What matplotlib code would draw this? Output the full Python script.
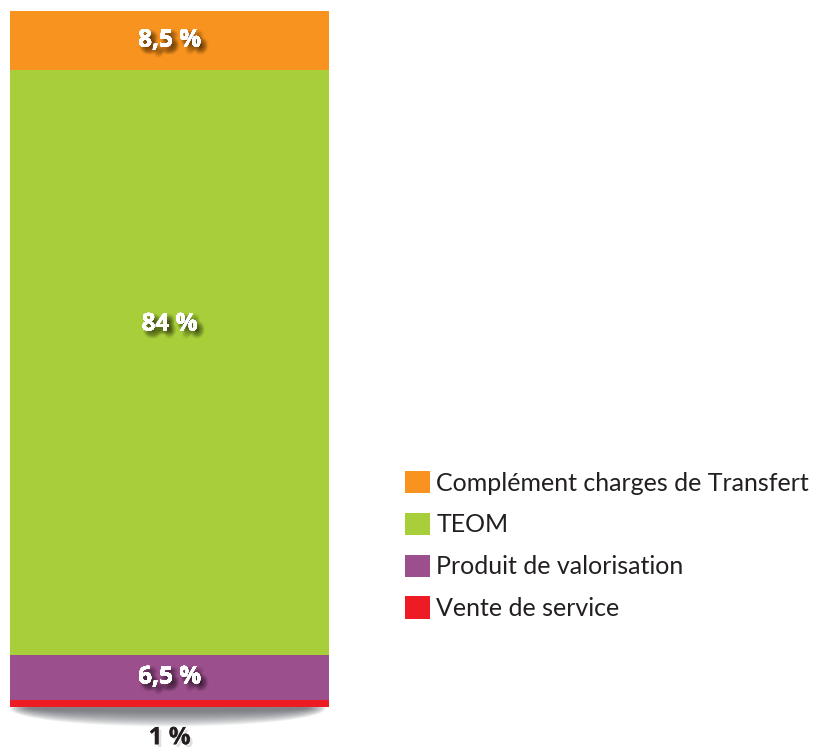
import matplotlib.pyplot as plt
import matplotlib.patheffects as pe
from matplotlib.patches import Patch, Ellipse

# data
categories = ['Vente de service', 'Produit de valorisation', 'TEOM',
              'Complément charges de Transfert']
values = [1, 6.5, 84, 8.5]
labels = ['1 %', '6,5 %', '84 %', '8,5 %']
colors = ['#ED1C24', '#9B4F8C', '#A8CF3A', '#F7931E']

W, H = 817, 751
fig = plt.figure(figsize=(W / 100, H / 100), dpi=100)

# axes covering the bar area (pixel box 10..329 x 11..707)
ax = fig.add_axes([10 / W, (H - 707) / H, 319 / W, 696 / H])
ax.set_xlim(-0.5, 0.5)
ax.set_ylim(0, sum(values))
ax.axis('off')

# soft shadow under the bar
n = 16
for i in range(n):
    w = 0.99 - i * 0.008
    h = 0.052 - i * 0.0028
    ax.add_patch(Ellipse((0.495, -0.002), w, h, transform=ax.transAxes,
                         facecolor='#4a4d55', edgecolor='none', alpha=0.065,
                         clip_on=False, zorder=0))

# blurry drop shadow for the labels
offsets = [(dx, -dy) for dx in range(0, 7) for dy in range(0, 7)
           if 1 <= (dx - 3) ** 2 + (dy - 3) ** 2 + 1 <= 10]
shadow = [pe.withSimplePatchShadow(offset=o, shadow_rgbFace='black', alpha=0.035)
          for o in offsets]
font = 'Open Sans'
bottom = 0
for v, lab, c in zip(values, labels, colors):
    ax.bar(0, v, width=1, bottom=bottom, color=c, edgecolor='none', zorder=2)
    if v > 50:
        # the big segment's label sits a bit above its middle
        ax.text(0, bottom + v * 0.565, lab, ha='center', va='center', color='white',
                fontsize=17.5, fontweight='bold', family=font, zorder=3,
                path_effects=shadow + [pe.Normal()])
    elif v > 2:
        ax.text(0, bottom + v / 2, lab, ha='center', va='center', color='white',
                fontsize=17.5, fontweight='bold', family=font, zorder=3,
                path_effects=shadow + [pe.Normal()])
    else:
        ax.text(0, -4.5, lab, ha='center', va='center', color='#231F20',
                fontsize=17.5, fontweight='bold', family=font, zorder=3,
                clip_on=False,
                path_effects=[pe.withSimplePatchShadow(offset=(2, -2), shadow_rgbFace='black',
                                                       alpha=0.12), pe.Normal()])
    bottom += v

# legend (top entry first)
handles = [Patch(facecolor=c, edgecolor='none') for c in colors[::-1]]
leg = fig.legend(handles, categories[::-1], loc='upper left',
                 bbox_to_anchor=(405 / W, 1 - 471 / H), frameon=False,
                 prop={'family': 'Lato', 'size': 18}, labelcolor='#231F20',
                 handlelength=1.0, handleheight=1.0, handletextpad=0.25,
                 labelspacing=0.72, borderpad=0, borderaxespad=0)

fig.savefig('out.png', dpi=100)
